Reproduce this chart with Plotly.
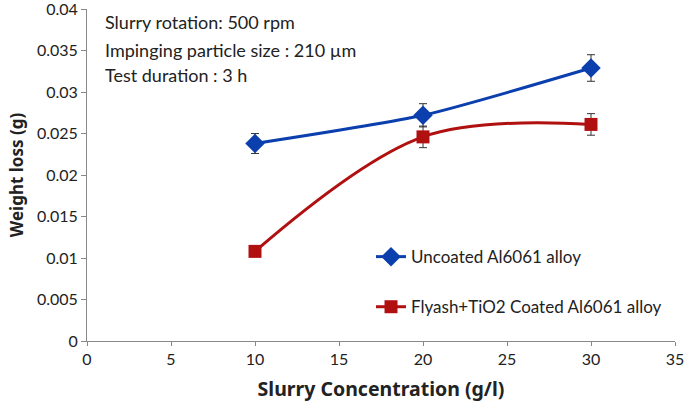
import plotly.graph_objects as go

conc = [10, 20, 30]
uncoated = [0.0238, 0.0272, 0.0329]
uncoated_err = [0.0012, 0.0014, 0.0016]
coated = [0.0108, 0.0246, 0.0261]
coated_err = [0.0, 0.0013, 0.0013]

x_ticks = [0, 5, 10, 15, 20, 25, 30, 35]
y_ticks = [0, 0.005, 0.01, 0.015, 0.02, 0.025, 0.03, 0.035, 0.04]
y_labels = ["0", "0.005", "0.01", "0.015", "0.02", "0.025", "0.03", "0.035", "0.04"]

note_lines = ["Slurry rotation: 500 rpm", "Impinging particle size : 210 µm", "Test duration : 3 h"]
note_y = [0.961, 0.877, 0.801]

FONT = "Lato, 'Open Sans', sans-serif"
TFONT = "Noto Sans, Lato, sans-serif"

fig = go.Figure()
fig.add_trace(go.Scatter(
    x=conc, y=uncoated, mode="lines+markers", name="Uncoated Al6061 alloy",
    line=dict(color="#0B3FAE", width=3, shape="spline", smoothing=0.6),
    marker=dict(symbol="diamond", size=15, color="#0B3FAE"),
    error_y=dict(type="data", array=uncoated_err, color="#333333", thickness=1, width=4),
    legendgroup="a",
))
fig.add_trace(go.Scatter(
    x=conc, y=coated, mode="lines+markers", name="Flyash+TiO2 Coated Al6061 alloy",
    line=dict(color="#B01010", width=3, shape="spline", smoothing=1.0),
    marker=dict(symbol="square", size=13, color="#B01010"),
    error_y=dict(type="data", array=coated_err, color="#333333", thickness=1, width=4),
    legendgroup="b",
))

fig.update_layout(
    width=685, height=402,
    margin=dict(l=87, r=10, t=9, b=61, autoexpand=False),
    plot_bgcolor="white", paper_bgcolor="white",
    font=dict(family=FONT, color="#222222", size=15),
    showlegend=True,
    legend=dict(x=0.483, y=0.307, xanchor="left", yanchor="top",
                font=dict(size=17, family=FONT, color="#222222"),
                tracegroupgap=25, bgcolor="rgba(0,0,0,0)"),
    xaxis=dict(range=[0, 35.0001], tickvals=x_ticks, showgrid=False, zeroline=False,
               showline=True, linecolor="#888888", linewidth=1, automargin=False,
               ticks="outside", ticklen=4, tickcolor="#888888",
               tickfont=dict(size=16), ticklabeloverflow="allow",
               title=dict(text="<b>Slurry Concentration (g/l)</b>",
                          font=dict(size=19.5, family=TFONT), standoff=15)),
    yaxis=dict(range=[0, 0.04001], tickvals=y_ticks, ticktext=y_labels, showgrid=False, zeroline=False,
               showline=True, linecolor="#888888", linewidth=1, automargin=False,
               ticks="outside", ticklen=5, tickcolor="#888888",
               tickfont=dict(size=16), ticklabeloverflow="allow",
               title=dict(text="<b>Weight loss (g)</b>",
                          font=dict(size=17, family=TFONT), standoff=8)),
)

for txt, yy in zip(note_lines, note_y):
    fig.add_annotation(
        xref="paper", yref="paper", x=0.0273, y=yy, xanchor="left", yanchor="middle",
        align="left", showarrow=False, text=txt,
        font=dict(size=18, family=FONT, color="#222222"),
    )

fig.write_html("out.html", config={"displayModeBar": False},
               post_script="document.body.style.margin='0';")
